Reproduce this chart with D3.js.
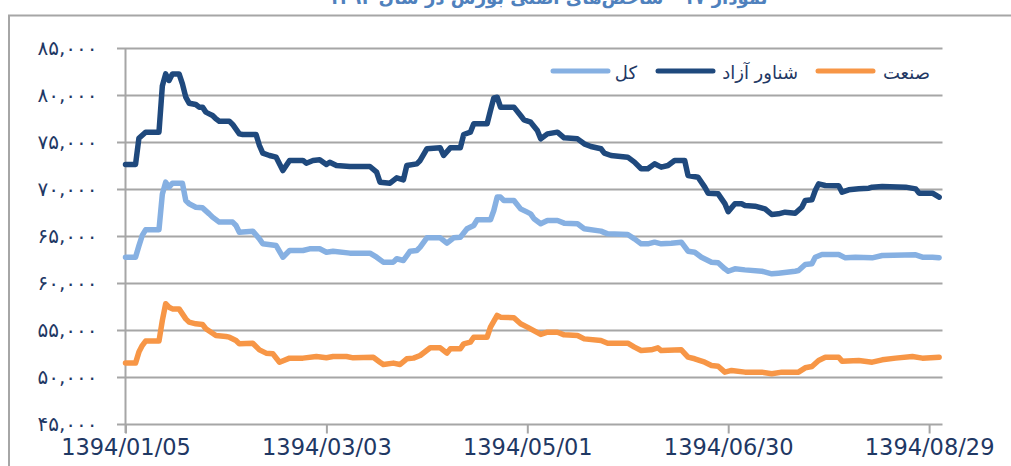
<!DOCTYPE html>
<html>
<head>
<meta charset="utf-8">
<script src="https://cdn.jsdelivr.net/npm/d3@7"></script>
<style>
  html, body { margin: 0; padding: 0; background: #fff; }
  svg { display: block; }
</style>
</head>
<body>
<div id="chart"></div>
<script>
// day index (from 1394/01/05) and index value
const freeFloat = [
  [0,72660],[3,72660],[4,75450],[6,76100],[10,76100],[11,81000],[12,82300],[13,81600],[14,82300],[16,82300],
  [17,81240],[18,79820],[19,79180],[21,79040],[22,78760],[23,78760],[24,78230],[25,78050],[26,77870],[27,77520],
  [28,77270],[31,77270],[32,76920],[34,75920],[35,75850],[39,75850],[40,74680],[41,73870],[43,73620],[45,73440],
  [47,72020],[49,73090],[53,73090],[54,72800],[56,73090],[58,73160],[60,72660],[61,72900],[63,72550],[67,72450],
  [73,72450],[75,71840],[76,70780],[79,70670],[81,71240],[83,71030],[84,72550],[87,72730],[88,73090],[90,74330],
  [94,74430],[95,73620],[97,74430],[100,74430],[101,75850],[103,76100],[104,76990],[108,76990],[109,78400],[110,79750],
  [111,79820],[112,78760],[116,78760],[118,77870],[119,77400],[121,77160],[123,76280],[124,75390],[126,75920],[129,76100],
  [131,75500],[135,75390],[137,74860],[139,74580],[142,74330],[143,73870],[145,73620],[150,73440],[152,72910],[154,72200],
  [156,72200],[158,72730],[160,72380],[162,72550],[164,73090],[167,73090],[168,71490],[171,71310],[173,70250],[174,69610],
  [177,69540],[179,68500],[180,67650],[182,68480],[184,68480],[185,68300],[188,68230],[191,67940],[193,67340],[195,67410],
  [197,67590],[200,67480],[202,68120],[203,68830],[205,68900],[206,69890],[207,70600],[209,70430],[213,70390],[214,69720],
  [216,69970],[219,70070],[222,70140],[223,70250],[226,70320],[233,70250],[236,70070],[237,69610],[241,69610],[243,69180]
];
const total = [
  [0,62800],[3,62800],[4,64000],[5,65110],[6,65710],[10,65710],[11,69500],[12,70780],[13,70250],[14,70670],
  [17,70670],[18,68830],[19,68480],[21,68120],[23,68050],[25,67410],[26,67060],[28,66530],[32,66530],[33,66170],
  [34,65460],[38,65570],[40,64750],[41,64220],[45,64040],[47,62800],[49,63510],[53,63510],[55,63690],[58,63690],
  [60,63330],[62,63440],[67,63230],[73,63230],[75,62800],[77,62270],[80,62270],[81,62630],[83,62450],[85,63440],
  [87,63510],[88,63870],[90,64860],[94,64860],[96,64290],[98,64860],[100,64930],[102,65820],[104,66170],[105,66770],
  [109,66770],[110,67770],[111,69190],[112,69190],[113,68830],[116,68830],[118,67940],[120,67590],[121,67410],[122,66880],
  [124,66350],[126,66700],[129,66700],[131,66420],[135,66350],[137,65820],[142,65570],[144,65280],[150,65210],[152,64750],
  [154,64220],[156,64220],[158,64400],[160,64220],[163,64290],[166,64400],[168,63440],[170,63330],[172,62800],[175,62270],
  [177,62200],[179,61560],[180,61300],[182,61560],[185,61450],[190,61310],[193,61030],[195,61100],[200,61310],[201,61380],
  [203,62020],[205,62090],[206,62800],[208,63090],[213,63090],[215,62730],[218,62800],[223,62730],[226,62980],[236,63050],
  [238,62800],[241,62800],[243,62730]
];
const industry = [
  [0,51530],[3,51530],[4,52700],[5,53400],[6,53870],[10,53870],[11,56070],[12,57840],[13,57480],[14,57300],
  [16,57300],[18,56240],[19,55890],[21,55710],[23,55640],[24,55180],[27,54470],[30,54360],[31,54290],[33,53940],
  [34,53580],[38,53650],[40,52940],[42,52590],[44,52520],[46,51630],[49,52060],[53,52060],[57,52230],[60,52100],
  [62,52230],[66,52230],[68,52090],[74,52160],[76,51630],[77,51380],[80,51530],[82,51380],[84,51990],[86,52060],
  [88,52340],[91,53160],[94,53160],[96,52590],[97,53050],[100,53050],[101,53580],[103,53760],[104,54290],[108,54290],
  [109,55360],[111,56600],[112,56420],[116,56350],[118,55710],[120,55360],[124,54580],[126,54820],[129,54820],[131,54540],
  [135,54470],[137,54110],[142,53940],[144,53650],[150,53650],[152,53230],[154,52870],[157,52940],[159,53160],[160,52870],
  [166,52940],[168,52160],[170,51990],[173,51630],[175,51280],[177,51200],[179,50570],[181,50750],[185,50570],[190,50570],
  [193,50390],[196,50570],[201,50570],[203,51030],[205,51170],[207,51810],[209,52160],[213,52160],[214,51740],[219,51810],
  [223,51630],[226,51880],[230,52060],[235,52230],[238,52060],[243,52160]
];

const xTickDays = [0, 60, 120, 180, 240];
const xTickLabels = ['1394/01/05', '1394/03/03', '1394/05/01', '1394/06/30', '1394/08/29'];
const yTicks = [45000, 50000, 55000, 60000, 65000, 70000, 75000, 80000, 85000];

const seriesNames = ['کل', 'شناور آزاد', 'صنعت'];
const seriesColors = ['#86b0e2', '#1f497d', '#f79646'];
const seriesData = [total, freeFloat, industry];

const width = 1011, height = 466;
const ink = '#1f3864', gridColor = '#a6a6a6';

const fa = s => s.replace(/\d/g, d => '۰۱۲۳۴۵۶۷۸۹'[d]);
const fmt = d3.format(',');

const svg = d3.select('#chart').append('svg')
  .attr('width', width)
  .attr('height', height);

// frame
svg.append('path')
  .attr('d', `M9,${height} V15.5 H${width}`)
  .attr('fill', 'none')
  .attr('stroke', gridColor)
  .attr('stroke-width', 2);

// title (mostly cut off at the top edge, as in the source)
svg.append('text')
  .attr('x', 548).attr('y', 4)
  .attr('text-anchor', 'middle')
  .attr('direction', 'rtl')
  .style('font-family', 'DejaVu Sans')
  .style('font-weight', 'bold')
  .style('font-size', '18px')
  .style('fill', '#4f81bd')
  .text('نمودار ۱۷ - شاخص‌های اصلی بورس در سال ۱۳۹۴');

const x = d3.scaleLinear().domain([0, 244]).range([125.5, 942.5]);
const y = d3.scaleLinear().domain([45000, 85000]).range([424.5, 48.5]);

// gridlines
svg.append('g')
  .selectAll('line')
  .data(yTicks)
  .enter().append('line')
  .attr('x1', 117).attr('x2', x.range()[1])
  .attr('y1', d => y(d)).attr('y2', d => y(d))
  .attr('stroke', gridColor)
  .attr('stroke-width', 2);

// y axis
const yAxis = svg.append('g')
  .attr('transform', `translate(${x.range()[0]},0)`)
  .call(d3.axisLeft(y).tickValues(yTicks).tickSize(0).tickPadding(28)
    .tickFormat(d => fa(fmt(d))));
yAxis.select('.domain').remove();
yAxis.selectAll('text')
  .style('font-family', 'DejaVu Sans')
  .style('font-size', '20px')
  .style('fill', ink);
svg.append('line')
  .attr('x1', x.range()[0]).attr('x2', x.range()[0])
  .attr('y1', y(85000)).attr('y2', 433)
  .attr('stroke', gridColor).attr('stroke-width', 2);

// x axis
const xAxis = svg.append('g')
  .attr('transform', `translate(0,${y(45000)})`)
  .call(d3.axisBottom(x).tickValues(xTickDays).tickSize(9).tickPadding(6)
    .tickFormat((d, i) => xTickLabels[i]));
xAxis.select('.domain').remove();
xAxis.selectAll('line').attr('stroke', gridColor).attr('stroke-width', 2);
xAxis.selectAll('text')
  .style('font-family', 'DejaVu Sans')
  .style('font-size', '22.5px')
  .style('fill', ink);

// lines
const line = d3.line()
  .x(d => x(d[0]))
  .y(d => y(d[1]));

svg.append('g')
  .selectAll('path')
  .data(seriesData)
  .enter().append('path')
  .attr('d', line)
  .attr('fill', 'none')
  .attr('stroke', (_, i) => seriesColors[i])
  .attr('stroke-width', 5.5)
  .attr('stroke-linejoin', 'round')
  .attr('stroke-linecap', 'round');

// legend (right to left)
const legendItems = [
  { name: seriesNames[0], color: seriesColors[0], sx: 553, tx: 637 },
  { name: seriesNames[1], color: seriesColors[1], sx: 658, tx: 798 },
  { name: seriesNames[2], color: seriesColors[2], sx: 818, tx: 930 }
];
const legend = svg.append('g');
legend.selectAll('line')
  .data(legendItems)
  .enter().append('line')
  .attr('x1', d => d.sx).attr('x2', d => d.sx + 55)
  .attr('y1', 71).attr('y2', 71)
  .attr('stroke', d => d.color)
  .attr('stroke-width', 5)
  .attr('stroke-linecap', 'round');
legend.selectAll('text')
  .data(legendItems)
  .enter().append('text')
  .attr('x', d => d.tx).attr('y', 79)
  .attr('text-anchor', 'start')
  .attr('direction', 'rtl')
  .style('font-family', 'DejaVu Sans')
  .style('font-size', '18px')
  .style('fill', ink)
  .text(d => d.name);
</script>
</body>
</html>
